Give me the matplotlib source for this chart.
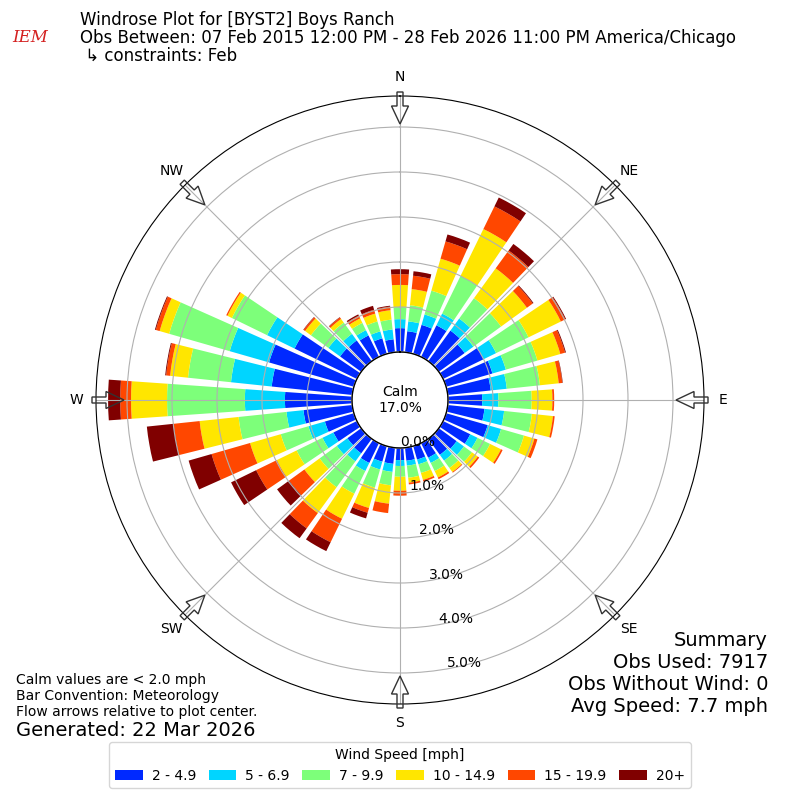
import numpy as np
import matplotlib
matplotlib.use("Agg")
import matplotlib.pyplot as plt
from matplotlib.patches import Patch, FancyArrow
from matplotlib.transforms import ScaledTranslation

# ---------------- data ----------------
directions = list(range(0, 360, 10))
speed_labels = ["2 - 4.9", "5 - 6.9", "7 - 9.9", "10 - 14.9", "15 - 19.9", "20+"]
s_2_5 = [0.53, 0.47, 0.67, 0.78, 0.84, 0.71, 1.00, 1.07, 0.96, 0.76, 0.82, 0.96,
         0.67, 0.49, 0.44, 0.36, 0.31, 0.29, 0.27, 0.36, 0.36, 0.49, 0.40, 0.38,
         0.58, 0.67, 1.09, 1.49, 1.80, 1.96, 1.54, 0.58, 0.57, 0.53, 0.36, 0.29]
s_5_7 = [0.20, 0.22, 0.24, 0.29, 0.33, 0.24, 0.31, 0.31, 0.36, 0.36, 0.44, 0.31,
         0.18, 0.20, 0.16, 0.13, 0.11, 0.11, 0.13, 0.18, 0.18, 0.20, 0.22, 0.29,
         0.27, 0.38, 0.38, 0.89, 0.91, 0.91, 0.68, 0.32, 0.18, 0.13, 0.16, 0.22]
s_7_10 = [0.27, 0.36, 0.55, 0.93, 0.56, 0.76, 0.80, 0.73, 0.74, 0.74, 0.62, 0.53,
          0.31, 0.22, 0.20, 0.20, 0.20, 0.27, 0.24, 0.30, 0.42, 0.56, 0.71, 0.47,
          0.64, 0.64, 1.07, 1.73, 0.96, 1.40, 0.87, 0.48, 0.31, 0.18, 0.23, 0.22]
s_10_15 = [0.49, 0.36, 0.74, 1.16, 0.82, 0.71, 0.80, 0.53, 0.42, 0.46, 0.47, 0.24,
           0.27, 0.16, 0.11, 0.16, 0.16, 0.11, 0.31, 0.41, 0.47, 0.62, 0.71, 0.42,
           0.49, 0.71, 0.87, 0.80, 0.40, 0.22, 0.11, 0.16, 0.10, 0.11, 0.18, 0.21]
s_15_20 = [0.24, 0.30, 0.40, 0.56, 0.49, 0.16, 0.11, 0.11, 0.08, 0.04, 0.04, 0.07,
           0.04, 0.04, 0.02, 0.04, 0.04, 0.04, 0.11, 0.21, 0.11, 0.58, 0.42, 0.42,
           0.51, 0.89, 0.58, 0.24, 0.09, 0.09, 0.03, 0.04, 0.04, 0.07, 0.09, 0.08]
s_20p = [0.11, 0.10, 0.16, 0.22, 0.18, 0.02, 0.02, 0.02, 0.01, 0.00, 0.00, 0.00,
         0.00, 0.00, 0.00, 0.00, 0.00, 0.00, 0.00, 0.00, 0.13, 0.22, 0.27, 0.33,
         0.62, 0.53, 0.60, 0.27, 0.02, 0.02, 0.00, 0.01, 0.01, 0.03, 0.09, 0.02]
calm_pct = 17.0
rtick_values = [0, 1, 2, 3, 4, 5]
compass = ["N", "NE", "E", "SE", "S", "SW", "W", "NW"]

series = [s_2_5, s_5_7, s_7_10, s_10_15, s_15_20, s_20p]
colors = plt.cm.jet(np.arange(1, 7) / 6.0)

# ---------------- figure ----------------
fig = plt.figure(figsize=(8, 8), dpi=100)
ax = fig.add_axes([0.12, 0.12, 0.76, 0.76], projection="polar")
ax.set_theta_zero_location("N")
ax.set_theta_direction(-1)

calm_r = 48 / 45.0          # radius of the calm circle (in % units)
rmax = 304 / 45.0
theta = np.radians(directions)
width = np.radians(10) * 0.8

bottom = np.full(len(directions), calm_r)
for vals, col in zip(series, colors):
    v = np.array(vals)
    ax.bar(theta, v, width=width, bottom=bottom, color=col, edgecolor="none",
           zorder=1)
    bottom = bottom + v

ax.set_ylim(0, rmax)
ax.set_yticks([calm_r + v for v in rtick_values])
ax.set_yticklabels([])
ax.set_xticks(np.radians(np.arange(0, 360, 45)))
ax.set_xticklabels(compass, fontsize=10)
ax.grid(True, color="#b0b0b0", lw=0.8)
ax.yaxis.set_zorder(4)

# radial labels
lab_tr = ax.transData + ScaledTranslation(0.08, 0.045, fig.dpi_scale_trans)
for v in rtick_values:
    ax.text(np.radians(168), calm_r + v, f"{v:.1f}%", transform=lab_tr,
            ha="center", va="center", fontsize=10, zorder=7)

# calm circle
tt = np.linspace(0, 2 * np.pi, 361)
ax.fill(tt, np.full_like(tt, calm_r), color="white", zorder=3)
ax.plot(tt, np.full_like(tt, calm_r), color="black", lw=1.0, zorder=4.5)
ax.text(0, 0, f"Calm\n{calm_pct:.1f}%", ha="center", va="center", fontsize=10,
        zorder=6)

# flow arrows at compass points
for b in range(0, 360, 45):
    s, c = np.sin(np.radians(b)), np.cos(np.radians(b))
    r0, r1 = 308 / 800.0, 276 / 800.0
    x0, y0 = 0.5 + r0 * s, 0.5 + r0 * c
    arr = FancyArrow(x0, y0, (r1 - r0) * s, (r1 - r0) * c,
                     width=6 / 800.0, head_width=17 / 800.0,
                     head_length=18 / 800.0, length_includes_head=True,
                     facecolor="none", edgecolor="#333333", lw=1.0,
                     transform=fig.transFigure, zorder=5)
    fig.add_artist(arr)

# ---------------- texts ----------------
fig.text(0.0375, 1 - 38 / 800, "IEM", color="#d42020", fontsize=12,
         fontstyle="italic", family="DejaVu Serif", ha="center", va="center")
fig.text(0.1, 1 - 20 / 800, "Windrose Plot for [BYST2] Boys Ranch",
         fontsize=12, va="center")
fig.text(0.1, 1 - 38 / 800,
         "Obs Between: 07 Feb 2015 12:00 PM - 28 Feb 2026 11:00 PM America/Chicago",
         fontsize=12, va="center")
fig.text(0.1, 1 - 56 / 800, " \u21b3 constraints: Feb", fontsize=12, va="center")

fig.text(0.02, 1 - 680 / 800, "Calm values are < 2.0 mph", fontsize=10, va="center")
fig.text(0.02, 1 - 696 / 800, "Bar Convention: Meteorology", fontsize=10, va="center")
fig.text(0.02, 1 - 712 / 800, "Flow arrows relative to plot center.", fontsize=10,
         va="center")
fig.text(0.02, 1 - 730 / 800, "Generated: 22 Mar 2026", fontsize=14, va="center")

summary = ["Summary", "Obs Used: 7917", "Obs Without Wind: 0", "Avg Speed: 7.7 mph"]
for i, line in enumerate(summary):
    fig.text(0.96, 1 - (640 + 22 * i) / 800, line, fontsize=14, ha="right",
             va="center")

handles = [Patch(facecolor=c, edgecolor="none") for c in colors]
fig.legend(handles, speed_labels, loc="lower center", ncol=6,
           bbox_to_anchor=(0.5, 0.006), title="Wind Speed [mph]", fontsize=10,
           title_fontsize=10, columnspacing=0.9, handletextpad=0.65)

fig.savefig("out.png", dpi=100)
